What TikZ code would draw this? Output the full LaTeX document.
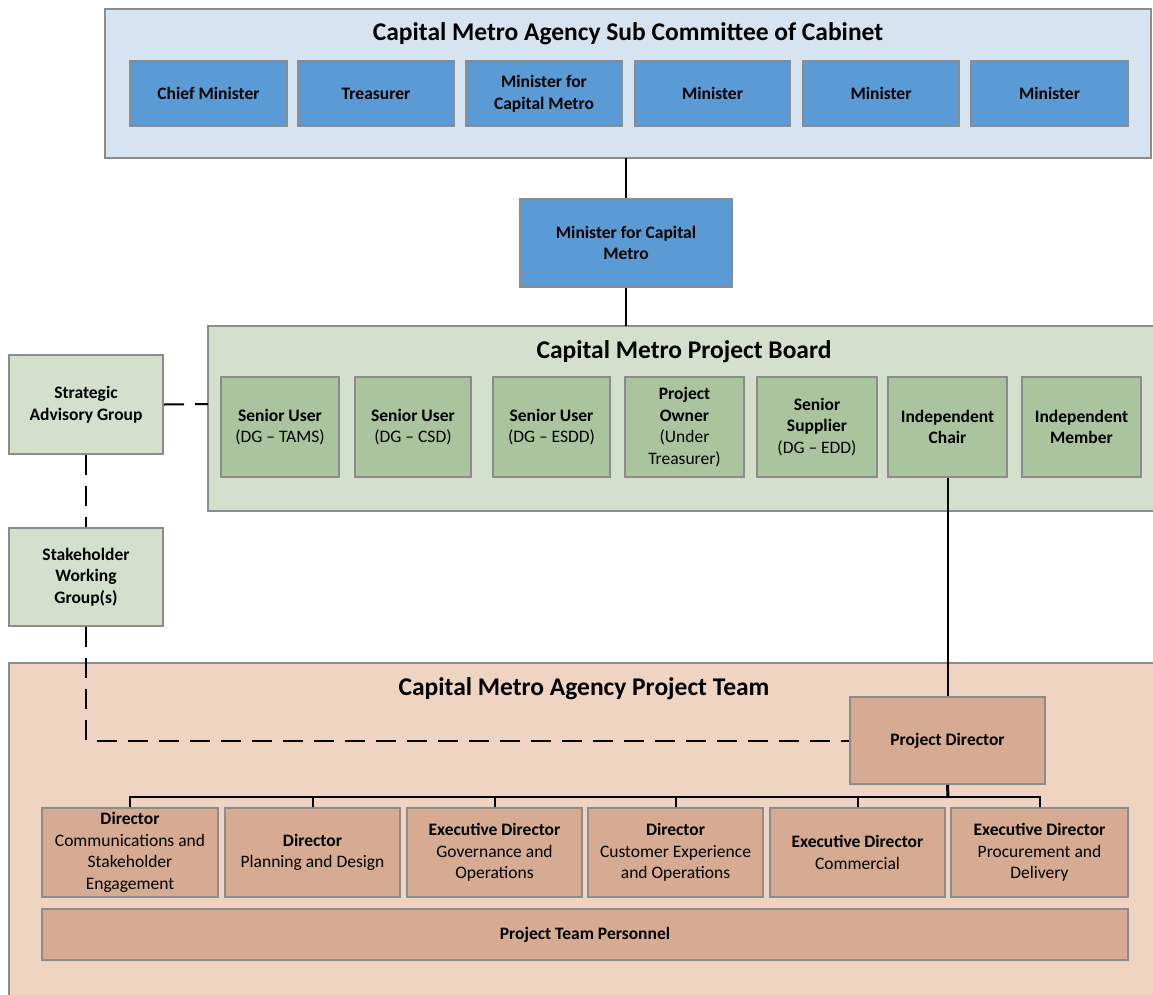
\documentclass[tikz,border=0pt]{standalone}
\usepackage{fontspec}
\setmainfont{Carlito}
\definecolor{cabinetbg}{RGB}{214,228,242}
\definecolor{cabinetbox}{RGB}{91,155,213}
\definecolor{boardbg}{RGB}{212,224,203}
\definecolor{boardbox}{RGB}{170,196,158}
\definecolor{teambg}{RGB}{240,212,194}
\definecolor{teambox}{RGB}{214,171,146}
\definecolor{edgegray}{RGB}{140,140,140}
\tikzset{
  panel/.style={draw=edgegray, line width=2pt, inner sep=0pt},
  paneltitle/.style={font=\fontsize{25.5}{28}\selectfont\bfseries},
  orgbox/.style={draw=edgegray, line width=2pt, align=center, inner sep=0pt,
    font=\fontsize{17.5}{21.5}\selectfont},
  link/.style={line width=2pt, black},
  dashlink/.style={line width=2pt, black, dash pattern=on 20pt off 11pt},
}
\begin{document}
\begin{tikzpicture}[x=1pt,y=-1pt]
\useasboundingbox (0,0) rectangle (1153,994);
\clip (0,0) rectangle (1153,994);

% Drawing panel of the cabinet sub committee
\draw [panel, fill=cabinetbg] (105,9) rectangle (1151,158);
\node [paneltitle] (cabtitle) at (628,34) {Capital Metro Agency Sub Committee of Cabinet};
\node [orgbox, fill=cabinetbox, minimum width=157pt, minimum height=65pt] (chief) at (208.5,93.5) {\bfseries Chief Minister};
\node [orgbox, fill=cabinetbox, minimum width=156pt, minimum height=65pt] (treas) at (376,93.5) {\bfseries Treasurer};
\node [orgbox, fill=cabinetbox, minimum width=156pt, minimum height=65pt] (mincm) at (544,93.5) {\bfseries Minister for\\\bfseries Capital Metro};
\node [orgbox, fill=cabinetbox, minimum width=155pt, minimum height=65pt] (mina) at (712.5,93.5) {\bfseries Minister};
\node [orgbox, fill=cabinetbox, minimum width=156pt, minimum height=65pt] (minb) at (881,93.5) {\bfseries Minister};
\node [orgbox, fill=cabinetbox, minimum width=157pt, minimum height=65pt] (minc) at (1049.5,93.5) {\bfseries Minister};
\coordinate (cabbottom) at (626,158);

% Drawing minister for capital metro
\node [orgbox, fill=cabinetbox, minimum width=212pt, minimum height=88pt] (minister) at (626,243) {\bfseries Minister for Capital\\\bfseries Metro};

% Drawing panel of the project board
\draw [panel, fill=boardbg] (208,326) rectangle (1170,511);
\coordinate (boardtop) at (626,326);
\coordinate (boardleft) at (208,404);
\node [paneltitle] (boardtitle) at (684,352) {Capital Metro Project Board};
\node [orgbox, fill=boardbox, minimum width=118pt, minimum height=100pt] (sutams) at (280,427) {\bfseries Senior User\\(DG -- TAMS)};
\node [orgbox, fill=boardbox, minimum width=116pt, minimum height=100pt] (sucsd) at (413,427) {\bfseries Senior User\\(DG -- CSD)};
\node [orgbox, fill=boardbox, minimum width=117pt, minimum height=100pt] (suesdd) at (551.5,427) {\bfseries Senior User\\(DG -- ESDD)};
\node [orgbox, fill=boardbox, minimum width=119pt, minimum height=100pt] (owner) at (684.5,427) {\bfseries Project\\\bfseries Owner\\(Under\\Treasurer)};
\node [orgbox, fill=boardbox, minimum width=120pt, minimum height=100pt] (supplier) at (817,427) {\bfseries Senior\\\bfseries Supplier\\(DG -- EDD)};
\node [orgbox, fill=boardbox, minimum width=119pt, minimum height=100pt] (chair) at (947.5,427) {\bfseries Independent\\\bfseries Chair};
\node [orgbox, fill=boardbox, minimum width=119pt, minimum height=100pt] (member) at (1081.5,427) {\bfseries Independent\\\bfseries Member};

% Drawing advisory and working groups
\node [orgbox, fill=boardbg, minimum width=154pt, minimum height=99pt] (sag) at (86,404.5) {\bfseries Strategic\\\bfseries Advisory Group};
\node [orgbox, fill=boardbg, minimum width=154pt, minimum height=98pt] (swg) at (86,577) {\bfseries Stakeholder\\\bfseries Working\\\bfseries Group(s)};

% Drawing panel of the project team
\draw [panel, fill=teambg] (9,663) rectangle (1170,1010);
\node [paneltitle] (teamtitle) at (584,689) {Capital Metro Agency Project Team};
\node [orgbox, fill=teambox, minimum width=195pt, minimum height=87pt] (pdir) at (947.5,740.5) {\bfseries Project Director};
\node [orgbox, fill=teambox, minimum width=176pt, minimum height=89pt] (dcomm) at (130,852.5) {\bfseries Director\\Communications and\\Stakeholder\\Engagement};
\node [orgbox, fill=teambox, minimum width=175pt, minimum height=89pt] (dplan) at (312.5,852.5) {\bfseries Director\\Planning and Design};
\node [orgbox, fill=teambox, minimum width=175pt, minimum height=89pt] (dgov) at (494.5,852.5) {\bfseries Executive Director\\Governance and\\Operations};
\node [orgbox, fill=teambox, minimum width=175pt, minimum height=89pt] (dcust) at (675.5,852.5) {\bfseries Director\\Customer Experience\\and Operations};
\node [orgbox, fill=teambox, minimum width=175pt, minimum height=89pt] (dcom) at (857.5,852.5) {\bfseries Executive Director\\Commercial};
\node [orgbox, fill=teambox, minimum width=177pt, minimum height=89pt] (dproc) at (1039.5,852.5) {\bfseries Executive Director\\Procurement and\\Delivery};
\node [orgbox, fill=teambox, minimum width=1086pt, minimum height=51pt] (personnel) at (585,934.5) {\bfseries Project Team Personnel};

% Drawing solid connectors
\draw [link] (cabbottom) -- (minister.north);
\draw [link] (minister.south) -- (boardtop);
\draw [link] (chair.south) -- (pdir.north);
\coordinate (bus) at (948,798);
\draw [line width=3pt] (pdir.south) -- (bus);
\draw [link] (dcomm.north) -- ++(0,-10) -| (dproc.north);
\foreach \d in {dplan,dgov,dcust,dcom}
  \draw [link] (\d.north) -- ++(0,-10);

% Drawing dashed connectors
\draw [dashlink] (sag.east) -- (boardleft);
\draw [dashlink] (sag.south) -- (swg.north);
\draw [dashlink] (swg.south) |- (pdir.west);
\end{tikzpicture}
\end{document}
